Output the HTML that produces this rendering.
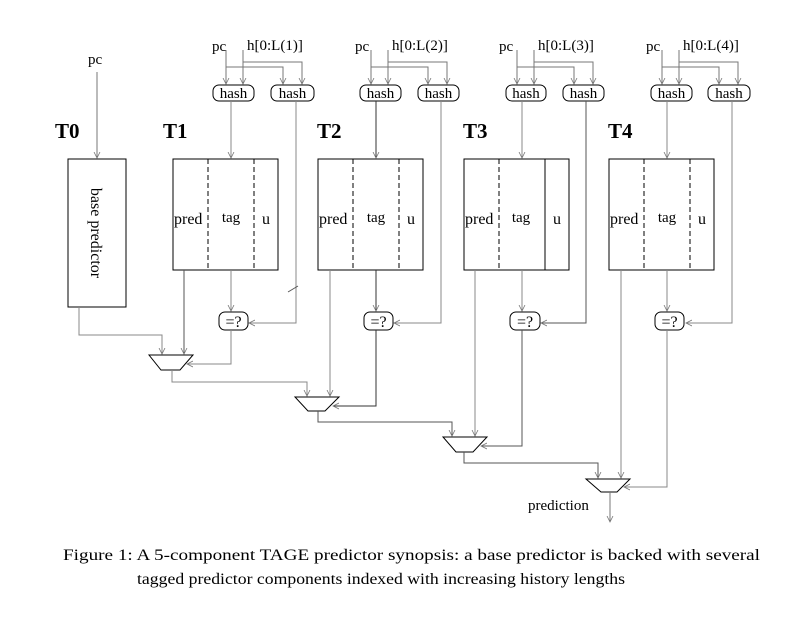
<!DOCTYPE html>
<html><head><meta charset="utf-8"><style>
html,body{margin:0;padding:0;background:#fff;}
svg{display:block;font-family:"Liberation Serif",serif;}
</style></head><body>
<svg width="800" height="618" viewBox="0 0 800 618" xmlns="http://www.w3.org/2000/svg">
<defs>
<marker id="a" markerWidth="8" markerHeight="8" refX="6" refY="4" orient="auto" markerUnits="userSpaceOnUse">
<path d="M0,1 L6,4 L0,7" fill="none" stroke="#777" stroke-width="0.8"/>
</marker>
</defs>
<g fill="none" stroke-width="1">
<rect x="68" y="159" width="58" height="148" stroke="#000"/>
<line x1="97" y1="72" x2="97" y2="158" stroke="#777" marker-end="url(#a)"/>
<polyline points="79,307 79,335 162,335 162,354" stroke="#888" marker-end="url(#a)"/>
</g>
<g font-size="16" fill="#000">
<text x="88" y="64" font-size="15">pc</text>
<text x="55" y="138" font-size="21" font-weight="bold">T0</text>
<text transform="translate(91,233) rotate(90)" text-anchor="middle" font-size="16">base predictor</text>
</g>
<text x="528" y="510" font-size="15">prediction</text>
<text x="63" y="560" font-size="16" textLength="697" lengthAdjust="spacingAndGlyphs">Figure 1:  A 5-component TAGE predictor synopsis: a base predictor is backed with several</text>
<text x="137" y="584" font-size="16" textLength="488" lengthAdjust="spacingAndGlyphs">tagged predictor components indexed with increasing history lengths</text>

<g transform="translate(173,0)" fill="none" stroke-width="1">
<rect x="0" y="159" width="105" height="111" stroke="#000"/>
<line x1="35" y1="159" x2="35" y2="270" stroke="#000" stroke-dasharray="5,3"/>
<line x1="81" y1="159" x2="81" y2="270" stroke="#000" stroke-dasharray="5,3"/>
<line x1="53" y1="50" x2="53" y2="84" stroke="#777" marker-end="url(#a)"/>
<polyline points="53,67 110,67 110,84" stroke="#777" marker-end="url(#a)"/>
<line x1="70" y1="50" x2="70" y2="84" stroke="#777" marker-end="url(#a)"/>
<polyline points="70,62 129,62 129,84" stroke="#777" marker-end="url(#a)"/>
<rect x="40" y="85" width="41" height="16" rx="6" stroke="#000"/>
<rect x="98" y="85" width="43" height="16" rx="6" stroke="#000"/>
<line x1="58" y1="101" x2="58" y2="158" stroke="#888" marker-end="url(#a)"/>
<polyline points="123,101 123,323 76,323" stroke="#888" marker-end="url(#a)"/>
<line x1="58" y1="270" x2="58" y2="311" stroke="#888" marker-end="url(#a)"/>
<rect x="46" y="312" width="29" height="18" rx="6" stroke="#000"/>
<line x1="11" y1="270" x2="11" y2="354" stroke="#555" marker-end="url(#a)"/>
<g fill="#000" stroke="none" font-family="Liberation Serif,serif">
<text x="39" y="51" font-size="15">pc</text>
<text x="74" y="50" font-size="15">h[0:L(1)]</text>
<text x="60.5" y="98" font-size="15" text-anchor="middle">hash</text>
<text x="119.5" y="98" font-size="15" text-anchor="middle">hash</text>
<text x="-10" y="138" font-size="21" font-weight="bold">T1</text>
<text x="1" y="224" font-size="16">pred</text>
<text x="58" y="222" font-size="15" text-anchor="middle">tag</text>
<text x="93" y="224" font-size="16" text-anchor="middle">u</text>
<text x="60.5" y="327" font-size="16" text-anchor="middle">=?</text>
</g>
</g>
<line x1="288" y1="292" x2="298" y2="286" stroke="#555"/>

<g transform="translate(318,0)" fill="none" stroke-width="1">
<rect x="0" y="159" width="105" height="111" stroke="#000"/>
<line x1="35" y1="159" x2="35" y2="270" stroke="#000" stroke-dasharray="5,3"/>
<line x1="81" y1="159" x2="81" y2="270" stroke="#000" stroke-dasharray="5,3"/>
<line x1="53" y1="50" x2="53" y2="84" stroke="#777" marker-end="url(#a)"/>
<polyline points="53,67 110,67 110,84" stroke="#777" marker-end="url(#a)"/>
<line x1="70" y1="50" x2="70" y2="84" stroke="#777" marker-end="url(#a)"/>
<polyline points="70,62 129,62 129,84" stroke="#777" marker-end="url(#a)"/>
<rect x="42" y="85" width="41" height="16" rx="6" stroke="#000"/>
<rect x="100" y="85" width="41" height="16" rx="6" stroke="#000"/>
<line x1="58" y1="101" x2="58" y2="158" stroke="#333" marker-end="url(#a)"/>
<polyline points="123,101 123,323 76,323" stroke="#888" marker-end="url(#a)"/>
<line x1="58" y1="270" x2="58" y2="311" stroke="#333" marker-end="url(#a)"/>
<rect x="46" y="312" width="29" height="18" rx="6" stroke="#000"/>
<line x1="12" y1="270" x2="12" y2="396" stroke="#888" marker-end="url(#a)"/>
<g fill="#000" stroke="none" font-family="Liberation Serif,serif">
<text x="37" y="51" font-size="15">pc</text>
<text x="74" y="50" font-size="15">h[0:L(2)]</text>
<text x="62.5" y="98" font-size="15" text-anchor="middle">hash</text>
<text x="120.5" y="98" font-size="15" text-anchor="middle">hash</text>
<text x="-1" y="138" font-size="21" font-weight="bold">T2</text>
<text x="1" y="224" font-size="16">pred</text>
<text x="58" y="222" font-size="15" text-anchor="middle">tag</text>
<text x="93" y="224" font-size="16" text-anchor="middle">u</text>
<text x="60.5" y="327" font-size="16" text-anchor="middle">=?</text>
</g>
</g>

<g transform="translate(464,0)" fill="none" stroke-width="1">
<rect x="0" y="159" width="105" height="111" stroke="#000"/>
<line x1="35" y1="159" x2="35" y2="270" stroke="#000" stroke-dasharray="5,3"/>
<line x1="81" y1="159" x2="81" y2="270" stroke="#000"/>
<line x1="53" y1="50" x2="53" y2="84" stroke="#777" marker-end="url(#a)"/>
<polyline points="53,67 110,67 110,84" stroke="#777" marker-end="url(#a)"/>
<line x1="70" y1="50" x2="70" y2="84" stroke="#777" marker-end="url(#a)"/>
<polyline points="70,62 129,62 129,84" stroke="#777" marker-end="url(#a)"/>
<rect x="42" y="85" width="40" height="16" rx="6" stroke="#000"/>
<rect x="99" y="85" width="41" height="16" rx="6" stroke="#000"/>
<line x1="58" y1="101" x2="58" y2="158" stroke="#888" marker-end="url(#a)"/>
<polyline points="122,101 122,323 77,323" stroke="#555" marker-end="url(#a)"/>
<line x1="58" y1="270" x2="58" y2="311" stroke="#888" marker-end="url(#a)"/>
<rect x="46" y="312" width="30" height="18" rx="6" stroke="#000"/>
<line x1="11" y1="270" x2="11" y2="436" stroke="#888" marker-end="url(#a)"/>
<g fill="#000" stroke="none" font-family="Liberation Serif,serif">
<text x="35" y="51" font-size="15">pc</text>
<text x="74" y="50" font-size="15">h[0:L(3)]</text>
<text x="62" y="98" font-size="15" text-anchor="middle">hash</text>
<text x="119.5" y="98" font-size="15" text-anchor="middle">hash</text>
<text x="-1" y="138" font-size="21" font-weight="bold">T3</text>
<text x="1" y="224" font-size="16">pred</text>
<text x="57" y="222" font-size="15" text-anchor="middle">tag</text>
<text x="93" y="224" font-size="16" text-anchor="middle">u</text>
<text x="61" y="327" font-size="16" text-anchor="middle">=?</text>
</g>
</g>

<g transform="translate(609,0)" fill="none" stroke-width="1">
<rect x="0" y="159" width="105" height="111" stroke="#000"/>
<line x1="35" y1="159" x2="35" y2="270" stroke="#000" stroke-dasharray="5,3"/>
<line x1="81" y1="159" x2="81" y2="270" stroke="#000" stroke-dasharray="5,3"/>
<line x1="53" y1="50" x2="53" y2="84" stroke="#777" marker-end="url(#a)"/>
<polyline points="53,67 110,67 110,84" stroke="#777" marker-end="url(#a)"/>
<line x1="70" y1="50" x2="70" y2="84" stroke="#777" marker-end="url(#a)"/>
<polyline points="70,62 129,62 129,84" stroke="#777" marker-end="url(#a)"/>
<rect x="42" y="85" width="41" height="16" rx="6" stroke="#000"/>
<rect x="99" y="85" width="42" height="16" rx="6" stroke="#000"/>
<line x1="58" y1="101" x2="58" y2="158" stroke="#888" marker-end="url(#a)"/>
<polyline points="123,101 123,323 77,323" stroke="#888" marker-end="url(#a)"/>
<line x1="58" y1="270" x2="58" y2="311" stroke="#888" marker-end="url(#a)"/>
<rect x="46" y="312" width="29" height="18" rx="6" stroke="#000"/>
<line x1="12" y1="270" x2="12" y2="478" stroke="#888" marker-end="url(#a)"/>
<g fill="#000" stroke="none" font-family="Liberation Serif,serif">
<text x="37" y="51" font-size="15">pc</text>
<text x="74" y="50" font-size="15">h[0:L(4)]</text>
<text x="62.5" y="98" font-size="15" text-anchor="middle">hash</text>
<text x="120" y="98" font-size="15" text-anchor="middle">hash</text>
<text x="-1" y="138" font-size="21" font-weight="bold">T4</text>
<text x="1" y="224" font-size="16">pred</text>
<text x="58" y="222" font-size="15" text-anchor="middle">tag</text>
<text x="93" y="224" font-size="16" text-anchor="middle">u</text>
<text x="60.5" y="327" font-size="16" text-anchor="middle">=?</text>
</g>
</g>

<g fill="none" stroke-width="1">
<polygon points="149,355 193,355 180,370 161,370" stroke="#000"/>
<polyline points="231,330 231,364 187,364" stroke="#888" marker-end="url(#a)"/>
<polyline points="172,370 172,382 307,382 307,396" stroke="#888" marker-end="url(#a)"/>
<polygon points="295,397 339,397 325,411 308,411" stroke="#000"/>
<polyline points="376,330 376,406 333,406" stroke="#333" marker-end="url(#a)"/>
<polyline points="318,411 318,422 452,422 452,436" stroke="#555" marker-end="url(#a)"/>
<polygon points="443,437 487,437 473,452 456,452" stroke="#000"/>
<polyline points="522,330 522,446 481,446" stroke="#555" marker-end="url(#a)"/>
<polyline points="464,452 464,463 598,463 598,478" stroke="#555" marker-end="url(#a)"/>
<polygon points="586,479 630,479 617,492 601,492" stroke="#000"/>
<polyline points="667,330 667,487 624,487" stroke="#888" marker-end="url(#a)"/>
<line x1="610" y1="492" x2="610" y2="522" stroke="#777" marker-end="url(#a)"/>
</g>
</svg>
</body></html>
